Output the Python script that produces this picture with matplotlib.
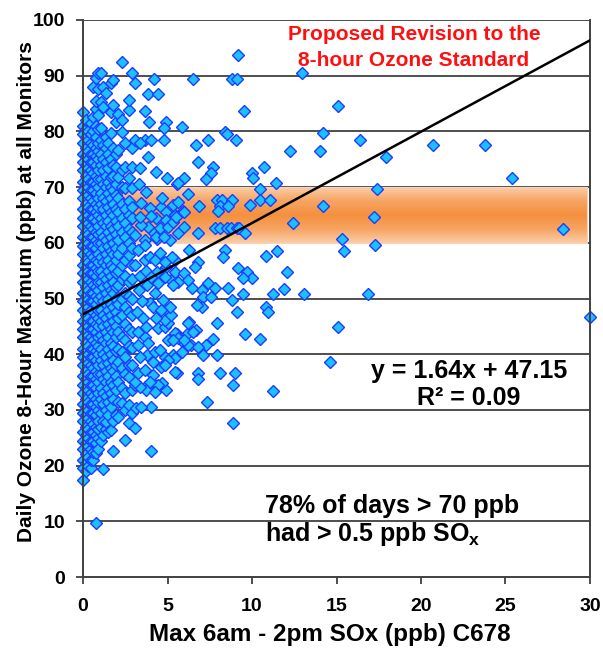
import numpy as np
import matplotlib
matplotlib.use("Agg")
import matplotlib.pyplot as plt
from matplotlib.colors import LinearSegmentedColormap

plt.rcParams['font.family'] = ['Liberation Sans', 'DejaVu Sans']
plt.rcParams['font.weight'] = 'bold'
plt.rcParams['mathtext.fontset'] = 'custom'
plt.rcParams['mathtext.rm'] = 'Liberation Sans'
plt.rcParams['mathtext.bf'] = 'Liberation Sans:bold'

# ---- data: daily max 8-hr ozone (ppb) vs. max 6am-2pm SOx (ppb) ----
# densely sampled low-SOx days, grouped by SOx value
column_x = [0.0, 0.15, 0.3, 0.45, 0.6, 0.75, 0.9,
            1.05, 1.2, 1.35, 1.5, 1.65, 1.8, 1.95,
            2.1, 2.3, 2.5, 2.7, 2.9]
column_y = [
    [17.5, 19.5, 21, 23, 24.5, 26, 28, 29.5, 31, 33, 34.5, 36, 38, 39.5, 41, 43, 44.5, 46, 48, 49.5,
     51, 53, 54.5, 56, 58, 59.5, 61, 63, 64.5, 66, 68, 69.5, 71, 73, 74.5, 76, 78, 79.5, 81, 83.5],
    [19, 20.5, 22, 24, 25.5, 27, 29, 30.5, 32, 34, 35.5, 37, 39, 40.5, 42, 44, 45.5, 47, 49, 50.5,
     52, 54, 55.5, 57, 59, 60.5, 62, 64, 65.5, 67, 69, 70.5, 72, 74, 75.5, 77, 79, 80.5, 82],
    [20, 21.5, 23.5, 25, 26.5, 28.5, 30, 31.5, 33.5, 35, 36.5, 38.5, 40, 41.5, 43.5, 45, 46.5, 48.5,
     50, 51.5, 53.5, 55, 56.5, 58.5, 60, 61.5, 63.5, 65, 66.5, 68.5, 70, 71.5, 73.5, 75, 76.5, 78.5, 80],
    [19.5, 21, 23, 24.5, 26, 28, 29.5, 31, 33, 34.5, 36, 38, 39.5, 41, 43, 44.5, 46, 48, 49.5, 51,
     53, 54.5, 56, 58, 59.5, 61, 63, 64.5, 66, 68, 69.5, 71, 73, 74.5, 76, 78, 79.5, 81.5],
    [21, 22.5, 24.5, 26, 27.5, 29.5, 31, 32.5, 34.5, 36, 37.5, 39.5, 41, 42.5, 44.5, 46, 47.5, 49.5,
     51, 52.5, 54.5, 56, 57.5, 59.5, 61, 62.5, 64.5, 66, 67.5, 69.5, 71, 72.5, 74.5, 76, 77.5, 80,
     82.5, 88],
    [9.7, 22.3, 24, 25.5, 27, 29, 30.5, 32, 34, 35.5, 37, 39, 40.5, 42, 44, 45.5, 47, 49, 50.5, 52,
     54, 55.5, 57, 59, 60.5, 62, 64, 65.5, 67, 69, 70.5, 72, 74, 75.5, 77, 79, 81, 84, 85.5, 89.5],
    [23, 25, 26.5, 28, 30, 31.5, 33, 35, 36.5, 38, 40, 41.5, 43, 45, 46.5, 48, 50, 51.5, 53, 55,
     56.5, 58, 60, 61.5, 63, 65, 66.5, 68, 70, 71.5, 73, 75, 76.5, 78, 80.5, 83, 87.6, 90.5],
    [24.5, 27, 29.5, 32, 34, 36.5, 39, 41, 43.5, 46, 48, 50.5, 53, 55, 57.5, 60, 62, 64.5, 67, 69,
     71.5, 74, 76, 78.5, 80.6, 85.3, 90.5],
    [19.4, 25.5, 28, 31, 33, 35.5, 38, 40, 42.5, 45, 47, 49.5, 52, 54, 56.5, 59, 61, 63.5, 66, 68,
     70.5, 73, 75, 77.5, 84.4, 88],
    [26.5, 27.8, 30, 32.5, 35, 37, 39.5, 42, 44, 46.5, 49, 51, 53.5, 56, 58, 60.5, 63, 65, 67.5, 70,
     72, 74.5, 77, 79, 86.9],
    [26, 29, 31.5, 34, 36, 38.5, 41, 43, 45.5, 48, 50, 52.5, 55, 57, 59.5, 62, 64, 66.5, 69, 71,
     73.5, 76, 78],
    [26.4, 30.5, 33, 35, 37.5, 40, 42, 44.5, 47, 49, 51.5, 54, 56, 58.5, 61, 63, 65.5, 68, 70, 71.8,
     75, 79.7, 83.5, 88.7],
    [22.6, 28, 32, 34.5, 37, 39, 41.5, 44, 46, 48.5, 51, 53, 55.5, 58, 60, 62.5, 65, 67, 69.5, 72,
     74, 77, 84.8, 89.2],
    [29, 33.5, 36, 38, 40.5, 43, 45, 47.5, 50, 52, 54.5, 57, 59, 61.5, 64, 66, 68.5, 70.5, 73.6, 76,
     81.7],
    [28.7, 31.5, 35, 38.6, 41, 44, 46.5, 49, 52.5, 55, 58, 60.5, 63, 65.5, 68, 71.8, 76.7, 83.2],
    [31.2, 34, 37.5, 40.4, 43, 47, 50, 53.5, 56, 59, 62, 64.5, 67, 70, 73, 79.9, 82, 92.5],
    [24.6, 30, 33, 36.5, 39.5, 42.5, 45.5, 48.5, 51, 54, 57, 61, 63.5, 66, 69.8, 73.6, 77.9],
    [27.6, 30.9, 35.9, 38, 41.5, 44.5, 47.5, 50.5, 53, 57.8, 60, 62.5, 65, 67.5, 71.6, 83.8, 85.6],
    [29.4, 33.6, 38.1, 41.1, 44, 47, 50, 53.5, 56, 59, 62, 64.5, 66.4, 69.8, 73.6, 77, 90.5],
]

# individual days with higher SOx
sparse_x = [
    3.1, 4.2, 6.5, 8.8, 9.1, 9.2, 3.85, 4.45, 9.5, 3.65, 3.9, 4.9, 4.8, 5.85, 4.8, 8.4, 8.55, 9.05,
    6.7, 7.4, 6.8, 7.7, 7.6, 7.3, 6.0, 5.55, 4.95, 10.0, 10.7, 10.05, 11.4, 10.5, 12.25,
    3.1, 3.65, 4.0, 3.4, 3.85, 4.3, 5.6, 3.4, 3.7, 3.3,
    6.2, 6.85, 5.9, 7.9, 8.2, 8.8, 8.1, 8.6, 9.9, 10.5, 11.05, 8.0,
    7.8, 8.1, 8.5, 8.75, 9.1, 9.25, 6.8, 9.6, 12.4, 4.2, 4.4,
    3.45, 3.95, 4.6, 4.9, 5.45, 6.0, 4.3, 4.9, 5.15, 5.6, 6.0, 3.85, 4.55, 3.45, 3.1, 3.65, 4.3, 4.8,
    3.35, 4.0, 5.0, 5.3, 5.5, 5.3, 4.7, 5.6,
    8.4, 8.3, 6.3, 6.8, 6.6, 9.2, 9.7, 10.0, 9.45, 11.5, 10.8, 12.1, 11.9, 11.25, 13.1, 16.85, 9.45,
    7.05, 7.4, 7.8, 6.45, 7.1, 7.6, 7.05, 6.75, 8.6, 8.8, 9.1, 10.8, 10.95,
    7.9, 6.3, 6.2, 6.4, 6.7, 7.3, 7.7, 7.9, 7.1, 9.6, 10.5,
    11.25, 8.9, 8.85, 9.0, 8.1, 6.8, 6.8, 7.35, 5.55, 5.35, 5.55, 5.15, 4.9, 4.05, 4.05, 4.15, 6.0,
    3.25, 3.65, 4.45, 4.9, 5.45, 4.6, 5.2, 4.25, 3.65, 3.95, 4.25, 4.55, 4.85, 5.25,
    4.4, 4.85, 5.45, 6.0, 6.2, 5.6, 5.3, 4.45,
    4.45, 4.85, 4.95, 5.45, 5.6, 6.2, 6.5, 6.2, 6.8,
    3.8, 4.25, 4.85, 5.45, 5.85, 3.65, 5.0, 3.25, 4.1, 4.65, 5.45, 4.15, 3.1, 3.65,
    3.1, 3.15, 3.45, 3.7, 4.45, 4.25, 3.4, 3.95, 3.1, 4.6, 3.25, 3.65, 3.4,
    4.55, 5.0, 4.85, 5.0, 6.0, 5.3, 4.85, 5.2, 4.75, 5.15, 3.95, 4.15,
    3.55, 3.7, 3.85, 3.25, 3.2, 3.5, 3.3, 3.8, 3.4, 3.7, 3.1, 4.0, 4.3, 4.6,
    12.95, 15.1, 14.2, 14.0, 16.4, 17.9, 20.7, 23.8, 25.4, 17.4, 14.2, 17.2, 28.4, 15.3, 15.45,
    17.3, 15.1, 30.0, 14.6,
]
sparse_y = [
    88.7, 89.4, 89.4, 89.4, 89.4, 93.7, 86.7, 86.7, 83.7, 83.7, 81.7, 81.7, 80.6, 80.8, 78.5, 79.9, 79.5, 78.5,
    77.6, 78.5, 74.5, 73.6, 72.5, 71.5, 71.6, 70.6, 71.6, 72.6, 73.6, 71.6, 70.7, 69.7, 76.5,
    78.5, 78.5, 78.5, 77.9, 75.4, 72.7, 70.7, 73.4, 69.1, 70.5,
    68.7, 66.6, 65.7, 67.7, 67.7, 67.7, 66.6, 66.6, 66.8, 67.7, 67.7, 65.7,
    62.7, 62.7, 62.7, 62.7, 62.7, 62.7, 61.7, 61.7, 63.6, 61.7, 60.6,
    67.1, 66.2, 66.4, 65.5, 65.0, 65.5, 64.5, 64.1, 60.5, 61.8, 62.8, 62.8, 62.7, 63.2, 61.4, 60.5, 61.0, 61.0,
    64.6, 64.8, 62.8, 63.7, 64.7, 66.8, 68.0, 67.4,
    58.7, 57.5, 58.7, 56.6, 55.7, 55.5, 54.7, 53.7, 53.7, 58.6, 57.6, 54.7, 51.7, 50.8, 50.8, 50.8, 50.8,
    51.5, 52.8, 51.9, 51.9, 50.3, 50.3, 48.5, 48.8, 51.9, 49.7, 47.6, 48.5, 47.6,
    45.6, 45.7, 43.8, 41.6, 44.3, 41.6, 42.7, 39.8, 39.8, 43.6, 42.7,
    33.4, 27.6, 34.5, 36.6, 36.6, 36.6, 35.6, 31.4, 36.6, 39.8, 43.6, 42.7, 33.6, 22.6, 30.5, 38.6, 42.0,
    58.7, 56.9, 57.5, 55.7, 56.9, 54.6, 53.3, 51.0, 59.6, 57.5, 56.9, 58.2, 56.6, 57.5,
    54.8, 53.9, 54.8, 54.6, 53.3, 53.0, 52.4, 52.8,
    44.7, 44.9, 47.9, 43.8, 42.9, 45.6, 44.0, 41.7, 41.3,
    39.9, 40.4, 39.5, 39.3, 40.4, 43.1, 42.5, 44.0, 35.0, 34.8, 36.8, 36.3, 34.5, 34.1,
    26.8, 30.3, 30.5, 33.6, 34.5, 33.2, 34.1, 35.0, 35.0, 37.7, 36.6, 37.2, 39.5,
    40.8, 39.0, 38.1, 45.6, 42.5, 42.5, 46.1, 47.0, 49.7, 48.5, 49.2, 48.5,
    46.5, 44.9, 42.0, 41.7, 47.5, 49.5, 51.5, 52.5, 54.0, 55.0, 56.0, 53.8, 46.5, 48.0,
    90.5, 84.6, 79.7, 76.5, 78.5, 75.4, 77.6, 77.6, 71.6, 69.6, 66.6, 64.6, 62.5, 60.6, 58.5,
    59.6, 44.8, 46.7, 38.6,
]

# linear fit reported on the chart
fit_slope = 1.64
fit_intercept = 47.15

# proposed standard range (ppb)
standard_low, standard_high = 60, 70

x_ticks = [0, 5, 10, 15, 20, 25, 30]
y_ticks = [0, 10, 20, 30, 40, 50, 60, 70, 80, 90, 100]

# ---- figure ----
fig = plt.figure(figsize=(6.03, 6.54), dpi=100)
ax = fig.add_axes([83 / 603, 1 - 577 / 654, (590 - 83) / 603, (577 - 20) / 654])
ax.set_xlim(0, 30)
ax.set_ylim(0, 100)

grid_col = '#404040'
for yv in y_ticks[1:]:
    ax.axhline(yv, color=grid_col, lw=1.3, zorder=0.5)

# shaded band for the proposed standard, lighter at the edges
band_cmap = LinearSegmentedColormap.from_list(
    'band', ['#FBCDA8', '#F7A462', '#F4903F', '#F7A462', '#FBCDA8'])
grad = np.linspace(0, 1, 256).reshape(-1, 1)
ax.imshow(grad, cmap=band_cmap, aspect='auto', extent=[0, 29.85, standard_low, standard_high],
          origin='lower', zorder=0.8, interpolation='bicubic')
ax.plot([0, 29.85, 29.85, 0, 0],
        [standard_low, standard_low, standard_high, standard_high, standard_low],
        color='#FAD3B4', lw=0.8, zorder=0.9)

# points
xs = []
ys = []
for cx, cys in zip(column_x, column_y):
    xs.extend([cx] * len(cys))
    ys.extend(cys)
xs.extend(sparse_x)
ys.extend(sparse_y)
ax.plot(xs, ys, linestyle='none', marker='D', ms=6.1, mfc='#1CC0FF', mec='#1A3CFF', mew=1.0,
        zorder=2, clip_on=False)

# regression line
fx = np.array([0, 30])
ax.plot(fx, fit_slope * fx + fit_intercept, color='black', lw=1.8, zorder=3)

# axes styling
for side in ['left', 'bottom', 'right']:
    ax.spines[side].set_color(grid_col)
    ax.spines[side].set_linewidth(1.4)
ax.spines['top'].set_visible(False)
ax.set_xticks(x_ticks)
ax.set_yticks(y_ticks)
ax.tick_params(direction='out', length=5, width=1.3, color=grid_col, labelsize=14, pad=8)
ax.tick_params(axis='x', pad=10)
for lbl in ax.get_xticklabels() + ax.get_yticklabels():
    lbl.set_fontweight('bold')

fig.text(330 / 603, 1 - 635 / 654, 'Max 6am - 2pm SOx (ppb) C678', fontsize=17.5,
         fontweight='bold', ha='center', va='center')
fig.text(27 / 603, 1 - 292 / 654, 'Daily Ozone 8-Hour Maximum (ppb) at all Monitors',
         fontsize=15, fontweight='bold', ha='center', va='center', rotation=90)

fig.text(414 / 603, 1 - 35 / 654, 'Proposed Revision to the', color='#FF1010', fontsize=15,
         fontweight='bold', ha='center', va='center')
fig.text(414 / 603, 1 - 60 / 654, '8-hour Ozone Standard', color='#FF1010', fontsize=15,
         fontweight='bold', ha='center', va='center')

fig.text(469 / 603, 1 - 371 / 654, f'y = {fit_slope:.2f}x + {fit_intercept:.2f}', fontsize=18,
         fontweight='bold', ha='center', va='center')
fig.text(469 / 603, 1 - 398 / 654, 'R² = 0.09', fontsize=18,
         fontweight='bold', ha='center', va='center')

fig.text(265 / 603, 1 - 506 / 654, '78% of days > 70 ppb', fontsize=18, fontweight='bold',
         ha='left', va='center')
fig.text(265 / 603, 1 - 534 / 654, 'had > 0.5 ppb SO$_\\mathregular{x}$', fontsize=18,
         fontweight='bold', ha='left', va='center')

fig.savefig('out.png', dpi=100)
